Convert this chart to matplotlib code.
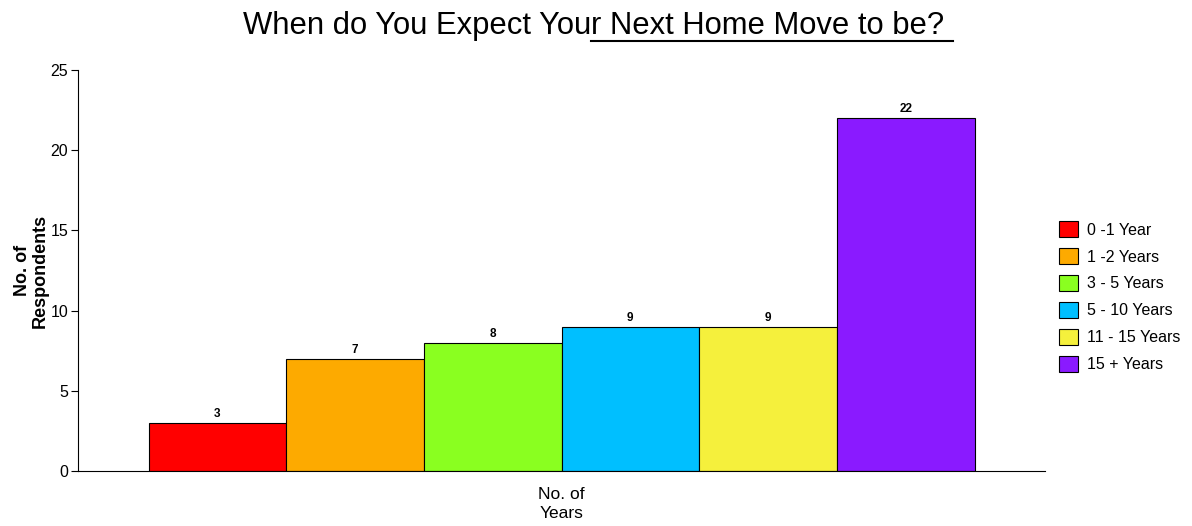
import matplotlib
matplotlib.use("Agg")
import matplotlib.pyplot as plt
import numpy as np
from matplotlib.lines import Line2D

categories = ["0 -1 Year", "1 -2 Years", "3 - 5 Years", "5 - 10 Years", "11 - 15 Years", "15 + Years"]
values = [3, 7, 8, 9, 9, 22]
colors = ["#FF0000", "#FDAA00", "#8AFF20", "#00BFFF", "#F5F03C", "#8A1AFF"]
yticks = [0, 5, 10, 15, 20, 25]

plt.rcParams['font.family'] = ['Liberation Sans', 'DejaVu Sans']

fig = plt.figure(figsize=(11.92, 5.26), dpi=100)
ax = fig.add_axes([78/1192, 1-471/526, (1045-78)/1192, (471-70)/526])

n = len(values)
group_w = 826/967
w = group_w / n
xs = -group_w/2 + w/2 + np.arange(n) * w
bars = []
for x, v, c, lab in zip(xs, values, colors, categories):
    b = ax.bar(x, v, width=w, color=c, edgecolor='black', linewidth=0.8, label=lab)
    bars.append(b)
    ax.annotate(str(v), (x, v), xytext=(0, 2), textcoords='offset points',
                ha='center', va='bottom', fontsize=8.5, fontweight='bold')

ax.set_xlim(-0.5, 0.5)
ax.set_ylim(0, 25)
ax.set_yticks(yticks)
ax.set_xticks([])
ax.spines['top'].set_visible(False)
ax.spines['right'].set_visible(False)
ax.spines['left'].set_linewidth(0.8)
ax.spines['bottom'].set_linewidth(0.8)
ax.tick_params(axis='y', length=5, width=0.8, labelsize=11.5, pad=2)
ax.set_ylabel("No. of\nRespondents", fontsize=13, fontweight='bold', linespacing=1.1)
ax.yaxis.set_label_coords((49 - 78) / 967, 0.5)
ax.set_xlabel("No. of\nYears", fontsize=12.5, linespacing=1.3)
ax.xaxis.set_label_coords(0.5, -(487 - 471) / 401)

leg = fig.legend(handles=[b[0] for b in bars], labels=categories,
                 loc='upper left', bbox_to_anchor=(1045/1192, 1-207/526),
                 frameon=False, fontsize=11.5, handlelength=1.15, handleheight=1.15,
                 handletextpad=0.55, labelspacing=0.66)

# Title with partial underline
fs = 22.3
t1 = fig.text(243/1192, 1-26/526, "When do You Expect You", fontsize=fs, ha='left', va='center')
fig.canvas.draw()
r = fig.canvas.get_renderer()
bb1 = t1.get_window_extent(r)
t2 = fig.text(bb1.x1/1192, 1-26/526, "r Next Home Move to be? ", fontsize=fs, ha='left', va='center')
fig.canvas.draw()
bb2 = t2.get_window_extent(r)
uy = 1 - 41/526
fig.add_artist(Line2D([bb2.x0/1192, bb2.x1/1192], [uy, uy], color='black', linewidth=1.5,
                      transform=fig.transFigure))

fig.savefig("out.png", dpi=100)
